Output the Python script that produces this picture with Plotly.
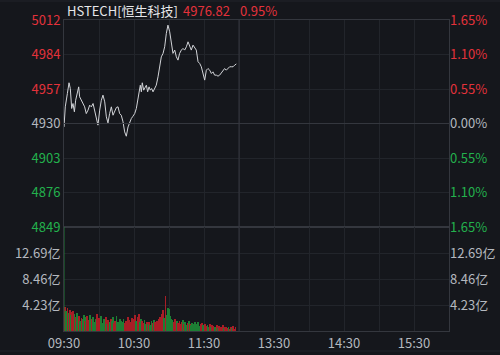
import plotly.graph_objects as go

# ---------------- data ----------------
pre_close = 4930.0
price_min = [0, 1.1, 2.9, 4.3, 5.4, 6.6, 7.7, 8.9, 10.0, 11.1,
             12.6, 13.4, 14.9, 16.3, 17.7, 19.1, 20.6, 22.0, 23.4, 24.9,
             26.3, 27.7, 29.1, 30.6, 32.0, 33.4, 34.9, 36.3, 37.7, 39.1,
             40.6, 42.0, 43.4, 44.9, 46.3, 47.7, 49.1, 50.6, 52.0, 53.4,
             54.9, 56.3, 57.7, 59.1, 60.6, 62.0, 63.4, 64.3, 65.4, 66.3,
             67.1, 68.3, 69.4, 70.6, 71.7, 72.9, 74.0, 75.1, 76.3, 77.7,
             79.1, 80.6, 82.0, 83.4, 84.9, 86.3, 87.7, 89.1, 90.6, 92.0,
             93.4, 94.9, 96.3, 97.7, 99.1, 100.6, 102.0, 103.4, 104.9, 106.3,
             107.7, 109.1, 110.6, 112.0, 113.4, 114.9, 116.3, 117.7, 119.1, 120.6,
             122.0, 123.4, 124.9, 126.3, 127.7, 129.1, 130.6, 132.0, 133.4, 134.9,
             136.3, 137.7, 139.1, 140.6, 142.0, 143.4, 144.9, 146.3, 147.7]
prices = [4927.3, 4943.1, 4953.6, 4962.0, 4957.5, 4941.8, 4945.7, 4939.2, 4948.3, 4952.3,
          4958.8, 4951.0, 4948.3, 4945.7, 4943.1, 4937.8, 4940.5, 4944.4, 4943.1, 4945.7,
          4940.5, 4935.2, 4928.7, 4940.5, 4948.3, 4952.3, 4947.0, 4935.2, 4930.5, 4937.8,
          4943.1, 4936.5, 4939.2, 4942.6, 4943.1, 4937.8, 4936.5, 4931.3, 4923.4, 4920.0,
          4927.3, 4931.3, 4933.9, 4935.7, 4937.8, 4941.8, 4949.6, 4957.5, 4960.1, 4954.9,
          4962.0, 4956.2, 4958.8, 4960.1, 4954.9, 4958.8, 4956.2, 4957.5, 4954.9, 4957.5,
          4960.1, 4966.7, 4974.6, 4982.4, 4985.1, 4990.3, 5000.8, 5007.3, 5002.1, 4992.9,
          4985.1, 4987.7, 4982.4, 4979.8, 4985.1, 4987.7, 4989.0, 4987.7, 4990.3, 4994.2,
          4990.3, 4987.7, 4991.6, 4989.0, 4987.7, 4978.5, 4977.2, 4974.6, 4969.3, 4964.1,
          4971.9, 4973.2, 4971.9, 4969.3, 4970.6, 4968.0, 4968.0, 4967.2, 4968.0, 4969.8,
          4971.4, 4973.2, 4971.9, 4973.2, 4974.6, 4974.6, 4974.6, 4975.9, 4976.8]

volume = [3.6, 3.9, 3.3, 3.7, 2.9, 3.4, 2.6, 3.1, 3.3, 2.8,
          2.2, 2.9, 1.8, 2.4, 1.6, 2.1, 1.9, 2.6, 1.7, 2.2,
          2.4, 1.8, 2.6, 1.5, 2.0, 2.3, 1.4, 1.9, 2.8, 1.6,
          2.1, 1.7, 2.5, 1.3, 2.0, 1.5, 2.2, 1.1, 1.8, 1.4,
          1.9, 1.6, 2.2, 1.3, 1.7, 2.4, 1.5, 1.2, 1.9, 1.6,
          1.4, 2.0, 1.3, 1.7, 1.1, 2.3, 1.8, 1.5, 2.1, 1.6,
          1.9, 2.6, 1.7, 2.2, 2.8, 1.5, 2.0, 1.6, 1.3, 1.8,
          1.2, 1.5, 1.1, 1.4, 1.0, 1.6, 1.3, 1.8, 1.5, 1.2,
          1.6, 1.9, 2.3, 1.8, 2.7, 3.4, 2.1, 5.7, 2.6, 3.7,
          3.5, 2.4, 2.0, 1.8, 1.5, 1.9, 1.4, 1.7, 1.3, 1.6,
          1.2, 1.5, 1.8, 1.1, 1.4, 1.0, 1.3, 1.6, 1.2, 0.9,
          1.3, 1.1, 1.5, 0.9, 1.2, 1.4, 0.8, 1.1, 1.3, 1.0,
          0.9, 1.2, 0.8, 1.0, 0.7, 1.1, 0.6, 0.9, 0.8, 0.7,
          0.6, 0.9, 0.5, 0.8, 0.7, 0.6, 0.9, 0.5, 0.7, 0.6,
          0.5, 0.7, 0.4, 0.6, 0.5, 0.8, 0.4, 0.6]
vol_dir = ("rrgrgrgrrg" "rggrgrggrg" "rrggrgggrr" "rrggggrgrg" "rggrrggggg"
           "ggrrrrrrrr" "rrgrrggrrg" "grgrggrgrr" "rrrrrrgrgg" "ggggrrrgrr"
           "rrgrggrgrg" "gggggggrrg" "grrggrgrrg" "grgrrrrgrr" "rgrrgrrr")
vol_min = list(range(len(volume)))

pct_ticks = [-1.65, -1.10, -0.55, 0.0, 0.55, 1.10, 1.65]
price_labels = ["4849", "4876", "4903", "4930", "4957", "4984", "5012"]
pct_labels = ["1.65%", "1.10%", "0.55%", "0.00%", "0.55%", "1.10%", "1.65%"]
vol_ticks = [4.23, 8.46, 12.69]
vol_labels = ["4.23亿", "8.46亿", "12.69亿"]
time_ticks = [0, 60, 120, 180, 240, 300]
time_labels = ["09:30", "10:30", "11:30", "13:30", "14:30", "15:30"]
header_name = "HSTECH[恒生科技]"
header_last = "4976.82"
header_chg = "0.95%"

# ---------------- style ----------------
BG = "#15171c"
GRID = "#22252b"
EDGE = "#34373e"
RED = "#e3323b"
GREEN = "#23b14d"
GRAY = "#b4b8bf"
BAR_RED = "#a81e26"
BAR_GREEN = "#1d7f34"
FONT = "Noto Sans CJK SC, Noto Sans, sans-serif"
FS = 13

span = pre_close * 0.0165
p_lo, p_hi = pre_close - span, pre_close + span
price_tickvals = [pre_close * (1 + v / 100) for v in pct_ticks]

def colored(labels, vals):
    out = []
    for lab, v in zip(labels, vals):
        c = RED if v > 0 else (GREEN if v < 0 else GRAY)
        out.append(f"<span style='color:{c}'>{lab}</span>")
    return out

vol_max = 16.92
split = 104 / 311  # volume panel share of plotting height

grid_x = list(range(0, 331, 30))
x_text = [time_labels[time_ticks.index(v)] if v in time_ticks else "" for v in grid_x]

fig = go.Figure()
fig.add_trace(go.Scatter(x=price_min, y=prices, mode="lines",
                         line=dict(color="#d2d4d8", width=1),
                         xaxis="x", yaxis="y", hoverinfo="skip"))
fig.add_trace(go.Bar(x=vol_min, y=volume, width=0.8,
                     marker=dict(color=[BAR_RED if d == "r" else BAR_GREEN for d in vol_dir],
                                 line=dict(width=0)),
                     xaxis="x2", yaxis="y2", hoverinfo="skip"))
# invisible traces so right-hand axes render
fig.add_trace(go.Scatter(x=[0], y=[0], mode="markers", marker=dict(opacity=0),
                         xaxis="x", yaxis="y3", hoverinfo="skip"))
fig.add_trace(go.Scatter(x=[0], y=[0], mode="markers", marker=dict(opacity=0),
                         xaxis="x2", yaxis="y4", hoverinfo="skip"))

xcommon = dict(range=[0, 330], tickvals=grid_x, showgrid=True, automargin=False,
               gridcolor=GRID, gridwidth=1, zeroline=False, showline=True,
               linecolor=EDGE, mirror=True, ticks="", fixedrange=True)
fig.update_layout(
    width=500, height=355, showlegend=False,
    paper_bgcolor=BG, plot_bgcolor=BG,
    margin=dict(l=64, r=51, t=20, b=24),
    font=dict(family=FONT, size=FS, color=GRAY),
    bargap=0,
    xaxis=dict(**xcommon, domain=[0, 1], anchor="y", showticklabels=False),
    xaxis2=dict(**xcommon, domain=[0, 1], anchor="y2", matches="x",
                ticktext=x_text, showticklabels=True, tickfont=dict(color=GRAY, size=FS)),
    yaxis=dict(domain=[split, 1], range=[p_lo, p_hi], tickvals=price_tickvals,
               ticktext=colored(price_labels, pct_ticks), showgrid=True, gridcolor=GRID,
               zeroline=False, showline=True, linecolor=EDGE, mirror=True, ticks="",
               tickfont=dict(size=FS), anchor="x", automargin=False),
    yaxis3=dict(overlaying="y", side="right", range=[-1.65, 1.65], tickvals=pct_ticks,
                ticktext=colored(pct_labels, pct_ticks), showgrid=False, zeroline=False,
                showline=False, ticks="", tickfont=dict(size=FS), anchor="x",
                automargin=False),
    yaxis2=dict(domain=[0, split], range=[0, vol_max], tickvals=vol_ticks,
                ticktext=vol_labels, showgrid=True, gridcolor=GRID, zeroline=False,
                showline=True, linecolor=EDGE, mirror=True, ticks="",
                tickfont=dict(size=FS, color=GRAY), anchor="x2", automargin=False),
    yaxis4=dict(overlaying="y2", side="right", range=[0, vol_max], tickvals=vol_ticks,
                ticktext=vol_labels, showgrid=False, zeroline=False, showline=False,
                ticks="", tickfont=dict(size=FS, color=GRAY), anchor="x2",
                automargin=False),
)

# brighter reference lines: pre-close and lunch break
fig.add_shape(type="line", xref="x", yref="y", x0=0, x1=330, y0=pre_close, y1=pre_close,
              line=dict(color=EDGE, width=1))
fig.add_shape(type="line", xref="x", yref="paper", x0=150, x1=150, y0=0, y1=1,
              line=dict(color=EDGE, width=1))
fig.add_shape(type="line", xref="x2", yref="y2", x0=0, x1=0, y0=0, y1=vol_max,
              line=dict(color="#1f7a33", width=1))
# outer frame lines
fig.add_shape(type="line", xref="paper", yref="paper", x0=-64 / 385, x1=436 / 385,
              y0=(331 - 1) / 311, y1=(331 - 1) / 311, line=dict(color=GRID, width=1))
fig.add_shape(type="line", xref="paper", yref="paper", x0=-64 / 385, x1=436 / 385,
              y0=(331 - 351) / 311, y1=(331 - 351) / 311, line=dict(color=GRID, width=1))

# header
HY = (331 - 10) / 311
fig.add_annotation(xref="paper", yref="paper", x=1 / 385, y=HY, xanchor="left",
                   yanchor="middle", text=header_name, showarrow=False,
                   font=dict(color="#e6e7ea", size=13))
fig.add_annotation(xref="paper", yref="paper", x=(181 - 64) / 385, y=HY,
                   xanchor="left", yanchor="middle", text=header_last, showarrow=False,
                   font=dict(color=RED, size=13))
fig.add_annotation(xref="paper", yref="paper", x=(238 - 64) / 385, y=HY,
                   xanchor="left", yanchor="middle", text=header_chg, showarrow=False,
                   font=dict(color=RED, size=13))

fig.write_html("out.html", config={"displayModeBar": False})
